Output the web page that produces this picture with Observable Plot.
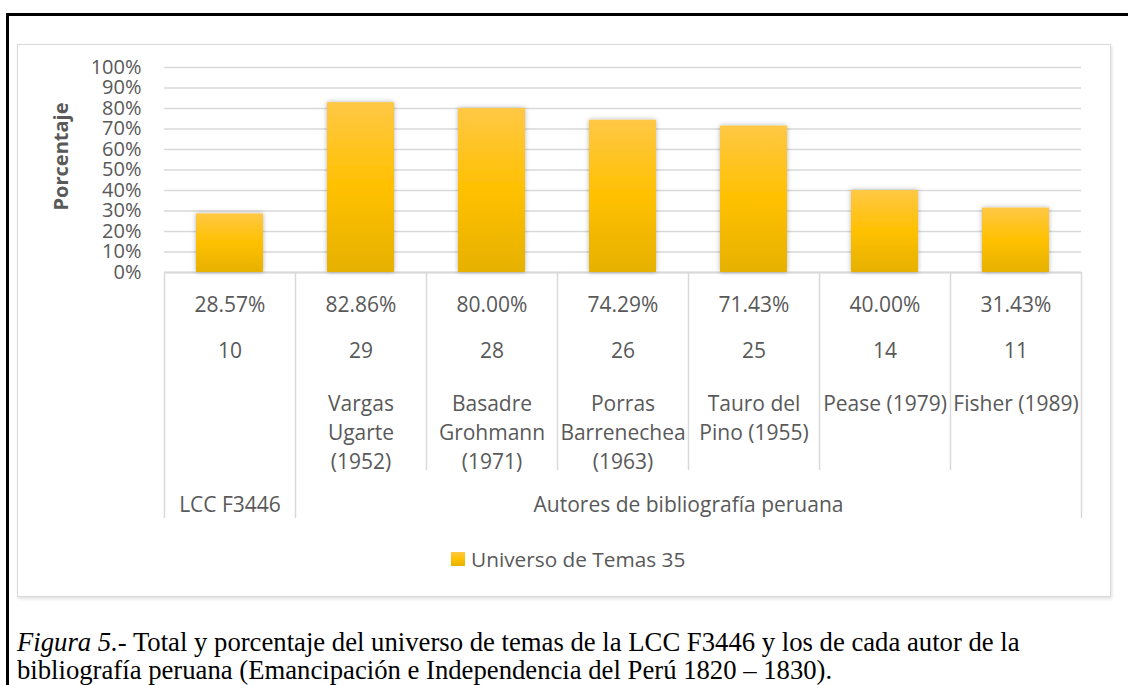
<!DOCTYPE html>
<html>
<head>
<meta charset="utf-8">
<script src="https://cdn.jsdelivr.net/npm/d3@7"></script>
<script src="https://cdn.jsdelivr.net/npm/@observablehq/plot@0.6"></script>
<style>
  html, body { margin: 0; padding: 0; background: #fff; width: 1128px; height: 685px; overflow: hidden; position: relative; }
  #frameTop { position: absolute; left: 6px; top: 13px; width: 1122px; height: 3px; background: #000; }
  #frameLeft { position: absolute; left: 6px; top: 13px; width: 3px; height: 672px; background: #000; }
  #chart { position: absolute; left: 17px; top: 44px; width: 1094px; height: 553px; }
  #box { position: absolute; left: 17px; top: 44px; width: 1094px; height: 553px; box-sizing: border-box;
         border: 1px solid #d9d9d9; box-shadow: 1px 2px 3px rgba(0,0,0,0.12); pointer-events: none; }
  #legend { position: absolute; left: 451px; top: 542px; }
  #legend, #legend * { font-family: "Open Sans", sans-serif !important; font-size: 20.8px !important; color: #595959 !important; }
  #legend div { margin: 0 !important; }
  #legend svg { margin-right: 6px !important; }
  #caption { position: absolute; left: 17px; top: 628px; font-family: "Liberation Serif", "Times New Roman", serif;
             font-size: 26.7px; line-height: 28px; color: #000; white-space: nowrap; }
</style>
</head>
<body>
<div id="frameTop"></div>
<div id="frameLeft"></div>
<div id="chart"></div>
<div id="box"></div>
<div id="legend"></div>
<div id="caption"><i>Figura 5.</i>- Total y porcentaje del universo de temas de la LCC F3446 y los de cada autor de la<br>bibliografía peruana (Emancipación e Independencia del Perú 1820 – 1830).</div>
<script>
// ---------- data ----------
const categories = ["LCC F3446", "Vargas Ugarte (1952)", "Basadre Grohmann (1971)", "Porras Barrenechea (1963)", "Tauro del Pino (1955)", "Pease (1979)", "Fisher (1989)"];
const nameLabels = ["", "Vargas\nUgarte\n(1952)", "Basadre\nGrohmann\n(1971)", "Porras\nBarrenechea\n(1963)", "Tauro del\nPino (1955)", "Pease (1979)", "Fisher (1989)"];
const percentages = [28.57, 82.86, 80.00, 74.29, 71.43, 40.00, 31.43];
const counts = [10, 29, 28, 26, 25, 14, 11];
const groupNames = ["LCC F3446", "Autores de bibliografía peruana"];
const groupOfCategory = [0, 1, 1, 1, 1, 1, 1];
const seriesName = "Universo de Temas 35";
const yTitle = "Porcentaje";
const yTicks = [0, 10, 20, 30, 40, 50, 60, 70, 80, 90, 100];

// ---------- layout ----------
const W = 1094, H = 553;
const mL = 147, mR = 30, mT = 23, mB = 325;
const padInner = 0.49, padOuter = padInner / 2;
const n = categories.length;
const step = (W - mL - mR) / (n - padInner + 2 * padOuter);
const textColor = "#595959";
const lineColor = "#d9d9d9";
const tableFont = 21;

const data = categories.map((key, i) => ({key, pct: percentages[i], count: counts[i], name: nameLabels[i], group: groupOfCategory[i]}));
const byKey = new Map(data.map(d => [d.key, d]));

// group label marks & boundaries
const groupMarks = groupNames.map((g, gi) => {
  const idx = data.map((d, i) => d.group === gi ? i : -1).filter(i => i >= 0);
  const mid = (idx[0] + idx[idx.length - 1]) / 2;
  const ref = Math.floor(mid);
  return Plot.axisX([categories[ref]], {
    tickSize: 0, tickPadding: 225, dx: (mid - ref) * step,
    tickFormat: () => g, fontSize: tableFont, label: null
  });
});
const groupStarts = categories.filter((k, i) => i === 0 || groupOfCategory[i] !== groupOfCategory[i - 1]);
const innerStarts = categories.filter((k, i) => !groupStarts.includes(k));

const chart = Plot.plot({
  width: W, height: H,
  marginLeft: mL, marginRight: mR, marginTop: mT, marginBottom: mB,
  style: {background: "transparent", fontFamily: "Open Sans, sans-serif", color: textColor, overflow: "visible"},
  x: {type: "band", domain: categories, paddingInner: padInner, paddingOuter: padOuter, label: null},
  y: {domain: [0, 100], label: null},
  marks: [
    Plot.gridY(yTicks, {stroke: lineColor, strokeOpacity: 1, strokeWidth: 1.3}),
    Plot.ruleY([0], {stroke: lineColor, strokeOpacity: 1, strokeWidth: 2}),
    Plot.axisY(yTicks, {tickSize: 0, tickPadding: 23, tickFormat: d => d + "%", fontSize: 20, label: null}),
    Plot.text([yTitle], {frameAnchor: "left", textAnchor: "middle", rotate: -90, dx: -103, dy: -13.5, fontWeight: "bold", fontSize: 20, fill: textColor}),
    Plot.barY(data, {x: "key", y: "pct", fill: "url(#barGrad)"}),
    // table rows under the category axis
    Plot.axisX(categories, {tickSize: 0, tickPadding: 25, fontSize: tableFont, label: null,
      tickFormat: k => byKey.get(k).pct.toFixed(2) + "%"}),
    Plot.axisX(categories, {tickSize: 0, tickPadding: 71, fontSize: tableFont, label: null,
      tickFormat: k => String(byKey.get(k).count)}),
    Plot.axisX(categories, {tickSize: 0, tickPadding: 118, fontSize: tableFont, lineHeight: 1.38, label: null,
      tickFormat: k => byKey.get(k).name}),
    ...groupMarks,
    // table dividers
    Plot.axisX(innerStarts, {tickSize: 198, dx: -step / 2, stroke: lineColor, strokeWidth: 1.5, tickFormat: () => "", label: null}),
    Plot.axisX(groupStarts, {tickSize: 246, dx: -step / 2, stroke: lineColor, strokeWidth: 1.5, tickFormat: () => "", label: null}),
    Plot.axisX([categories[n - 1]], {tickSize: 246, dx: step / 2, stroke: lineColor, strokeWidth: 1.5, tickFormat: () => "", label: null})
  ]
});

// gradient + shadow definitions
const defs = d3.select(chart).insert("defs", ":first-child");
const grad = defs.append("linearGradient").attr("id", "barGrad").attr("x1", 0).attr("y1", 0).attr("x2", 0).attr("y2", 1);
grad.append("stop").attr("offset", "0%").attr("stop-color", "#FFC845");
grad.append("stop").attr("offset", "50%").attr("stop-color", "#FFC000");
grad.append("stop").attr("offset", "100%").attr("stop-color", "#E6B100");
const filt = defs.append("filter").attr("id", "barShadow").attr("x", "-20%").attr("y", "-20%").attr("width", "140%").attr("height", "140%");
filt.append("feDropShadow").attr("dx", 0).attr("dy", 0).attr("stdDeviation", 2.5).attr("flood-color", "#000").attr("flood-opacity", 0.3);
d3.select(chart).selectAll('g[aria-label="bar"]').attr("filter", "url(#barShadow)");

document.getElementById("chart").appendChild(chart);

const legend = Plot.legend({
  color: {type: "ordinal", domain: [seriesName], range: ["url(#barGrad)"]},
  swatchSize: 14
});
document.getElementById("legend").appendChild(legend);
</script>
</body>
</html>
